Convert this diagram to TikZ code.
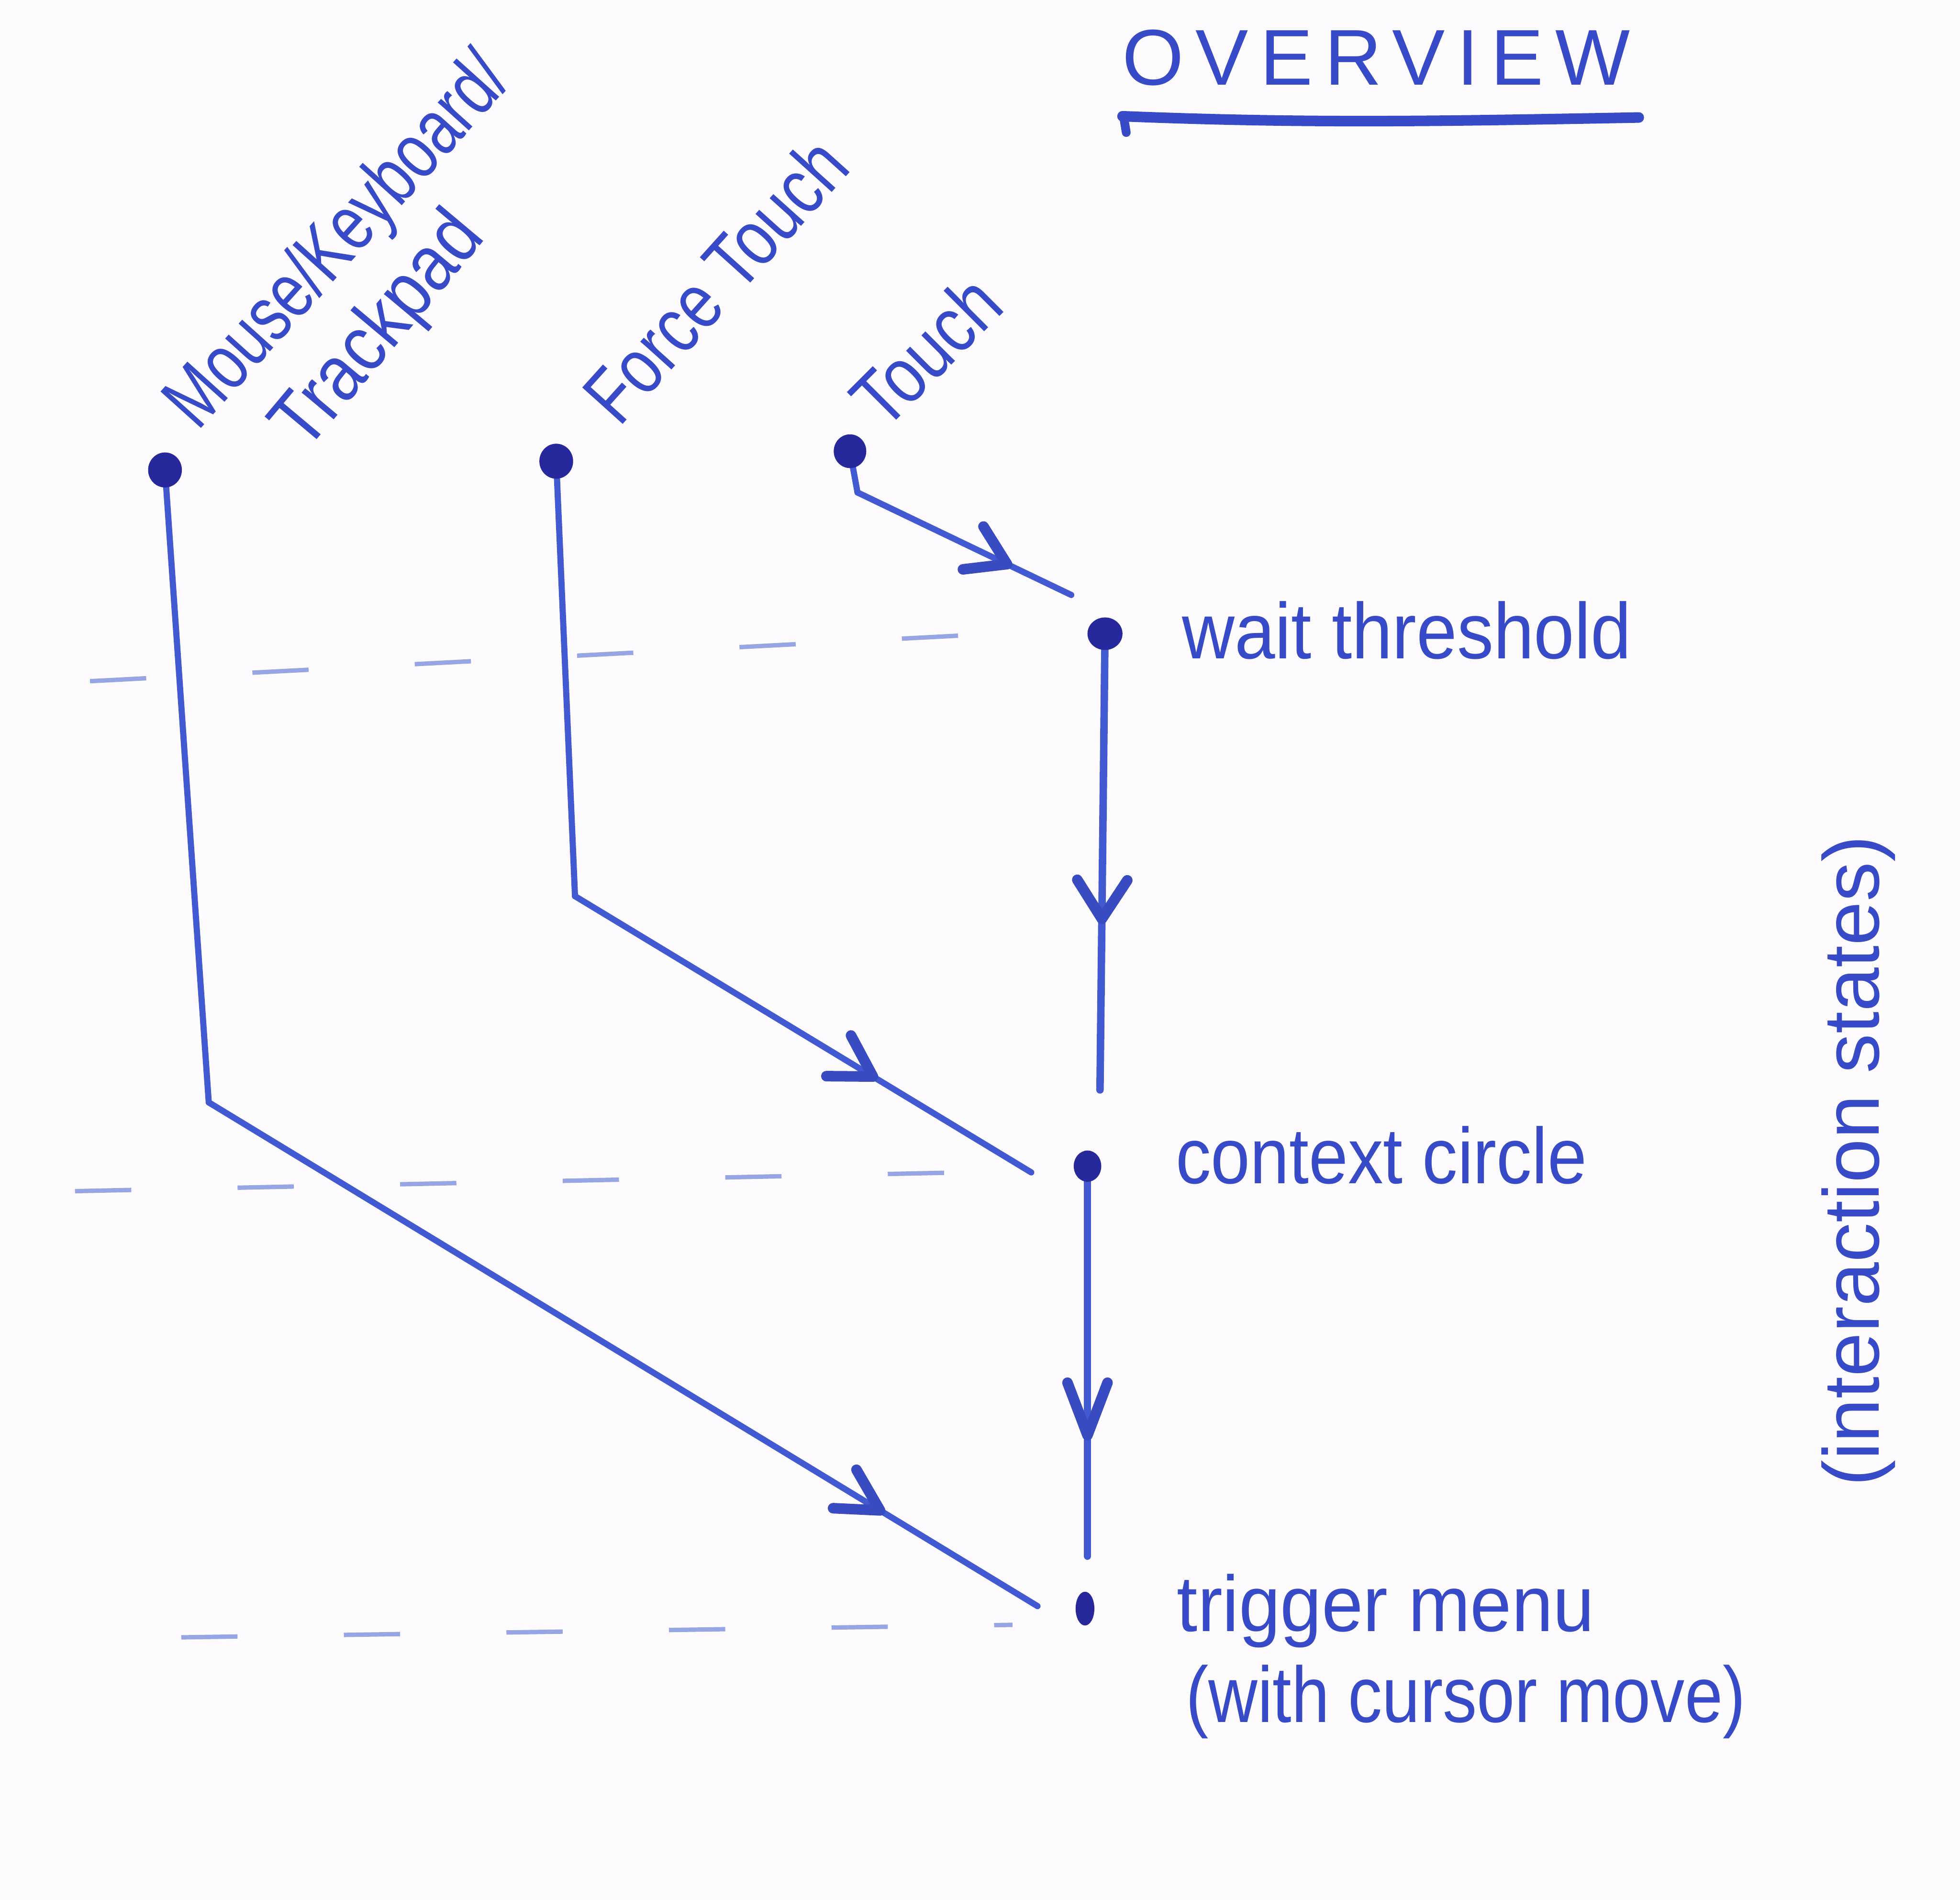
\documentclass[tikz,border=0pt]{standalone}
\usepackage{fontspec}
\setmainfont{Liberation Sans}
\newfontfamily\spacedfont[LetterSpace=15]{Liberation Sans}
\usetikzlibrary{decorations.markings,backgrounds,shapes.geometric}
\definecolor{paper}{RGB}{253,251,253}
\definecolor{inkline}{RGB}{65,90,210}
\definecolor{inktext}{RGB}{55,75,200}
\definecolor{inkdark}{RGB}{38,40,155}
\definecolor{pencil}{RGB}{150,165,228}
\begin{document}
\begin{tikzpicture}[x=0.01cm,y=-0.01cm,
  dotnode/.style n args={2}{ellipse, fill=inkdark, inner sep=0pt, minimum width=#1, minimum height=#2},
  hand/.style={text=inktext, font=\fontsize{18}{22}\selectfont, inner sep=0pt, anchor=base west},
  conn/.style={draw=inkline, line width=1.4pt, line cap=round, line join=round},
  barbtip/.style={draw=inkline!70!inkdark, line width=2.4pt, line cap=round, line join=round},
  barb/.style n args={3}{postaction={decorate}, decoration={markings, mark=at position #1 with {\draw[barbtip] (-#2,#3) -- (0,0) -- (-#2,-#3);}}},
  pencilline/.style={draw=pencil, line width=1pt, dash pattern=on 0.45cm off 0.85cm}
]
\useasboundingbox (0,0) rectangle (1568,1520);

% title
\node[hand] (title) at (897,68) {\spacedfont OVERVIEW};
\draw[line width=2.4pt, inktext, line cap=round] (898,93) .. controls (1050,99) and (1150,97) .. (1311,94);
\draw[line width=2pt, inktext, line cap=round] (899,94) -- (901,106);

% state / source dots
\node[dotnode={0.27cm}{0.28cm}] (mouse) at (132,376) {};
\node[dotnode={0.27cm}{0.28cm}] (force) at (445,369) {};
\node[dotnode={0.26cm}{0.27cm}] (touch) at (680,361) {};
\node[dotnode={0.28cm}{0.26cm}] (wait) at (884,507) {};
\node[dotnode={0.22cm}{0.25cm}] (context) at (870,933) {};
\node[dotnode={0.15cm}{0.27cm}] (trigger) at (868,1287) {};

% labels of sources
\node[hand, rotate=48] (lmouse) at (158,346) {\scalebox{0.76}[1]{Mouse/Keyboard/}};
\node[hand, rotate=50] (ltrack) at (244,363) {\scalebox{0.86}[1]{Trackpad}};
\node[hand, rotate=48] (lforce) at (495,343) {\scalebox{0.80}[1]{Force Touch}};
\node[hand, rotate=45] (ltouch) at (707,346) {\scalebox{0.82}[1]{Touch}};

% labels of states
\node[hand] (lwait) at (945,527) {\scalebox{0.92}[1]{wait threshold}};
\node[hand] (lcontext) at (940,947) {\scalebox{0.89}[1]{context circle}};
\node[hand] (ltrigger) at (941,1305) {\scalebox{0.94}[1]{trigger menu}};
\node[hand] (ltrigger2) at (948,1378) {\scalebox{0.86}[1]{(with cursor move)}};
\node[hand, rotate=90] (lstates) at (1503,1190) {(interaction states)};

% connector bends and free ends
\coordinate (tk) at (686,394);
\coordinate (te) at (857,476);
\coordinate (fk) at (460,717);
\coordinate (fe) at (825,938);
\coordinate (mk) at (167,882);
\coordinate (me) at (830,1285);
\coordinate (we) at (880,872);
\coordinate (ce) at (870,1245);

\begin{pgfonlayer}{background}
\fill[paper] (0,0) rectangle (1568,1520);
% faint guide lines
\draw[pencilline] (72,545) -- (835,505);
\draw[pencilline] (60,953) -- (818,937);
\draw[pencilline] (145,1310) -- (810,1300);
% connectors
\draw[conn] (touch.center) -- (tk);
\draw[conn, barb={0.70}{0.30cm}{0.19cm}] (tk) -- (te);
\draw[conn] (force.center) -- (fk);
\draw[conn, barb={0.653}{0.32cm}{0.19cm}] (fk) -- (fe);
\draw[conn] (mouse.center) -- (mk);
\draw[conn, barb={0.81}{0.33cm}{0.18cm}] (mk) -- (me);
\draw[conn, line width=1.7pt, barb={0.625}{0.31cm}{0.20cm}] (wait.center) -- (we);
\draw[conn, line width=1.7pt, barb={0.69}{0.42cm}{0.16cm}] (context.center) -- (ce);
\end{pgfonlayer}
\end{tikzpicture}
\end{document}
